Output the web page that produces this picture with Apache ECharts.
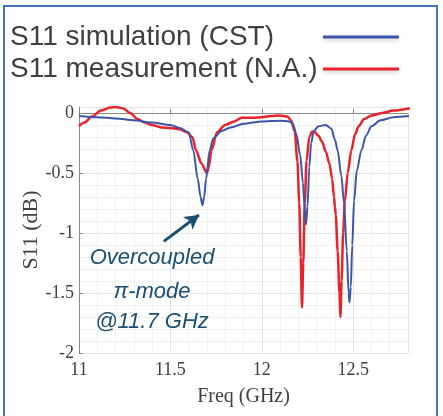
<!DOCTYPE html>
<html>
<head>
<meta charset="utf-8">
<script src="https://cdn.jsdelivr.net/npm/echarts@6/dist/echarts.min.js"></script>
<style>
  html, body { margin: 0; padding: 0; background: #fff; }
  #chart { width: 443px; height: 416px; }
</style>
</head>
<body>
<div id="chart"></div>
<script>
// simulation (CST)
const simFreq = [11.00, 11.10, 11.20, 11.30, 11.40, 11.50, 11.55, 11.60, 11.625, 11.65, 11.665, 11.675, 11.685, 11.695, 11.715, 11.735, 11.78, 11.83, 11.90, 12.00, 12.10, 12.15, 12.17, 12.19, 12.21, 12.225, 12.235, 12.242, 12.25, 12.26, 12.27, 12.285, 12.31, 12.35, 12.38, 12.40, 12.415, 12.435, 12.45, 12.465, 12.475, 12.48, 12.487, 12.495, 12.505, 12.52, 12.545, 12.57, 12.60, 12.65, 12.72, 12.81]
const simS11 = [-0.025, -0.035, -0.045, -0.06, -0.08, -0.10, -0.125, -0.16, -0.31, -0.55, -0.70, -0.77, -0.70, -0.55, -0.31, -0.21, -0.15, -0.12, -0.09, -0.07, -0.065, -0.07, -0.09, -0.18, -0.35, -0.58, -0.80, -0.93, -0.78, -0.45, -0.25, -0.15, -0.11, -0.10, -0.13, -0.22, -0.31, -0.52, -0.75, -1.15, -1.50, -1.58, -1.45, -1.10, -0.73, -0.48, -0.31, -0.19, -0.11, -0.06, -0.035, -0.025]

// measurement (N.A.)
const measFreq = [11.00, 11.03, 11.07, 11.12, 11.17, 11.20, 11.24, 11.28, 11.32, 11.36, 11.40, 11.45, 11.50, 11.55, 11.59, 11.62, 11.64, 11.67, 11.70, 11.71, 11.725, 11.755, 11.80, 11.85, 11.89, 11.95, 12.00, 12.05, 12.10, 12.14, 12.16, 12.18, 12.195, 12.205, 12.213, 12.22, 12.227, 12.235, 12.245, 12.26, 12.275, 12.29, 12.31, 12.33, 12.35, 12.37, 12.385, 12.395, 12.40, 12.405, 12.415, 12.425, 12.43, 12.437, 12.445, 12.455, 12.47, 12.49, 12.51, 12.53, 12.56, 12.60, 12.66, 12.72, 12.81]
const measS11 = [-0.11, -0.08, -0.03, 0.02, 0.045, 0.05, 0.04, 0.00, -0.05, -0.08, -0.10, -0.12, -0.125, -0.135, -0.16, -0.20, -0.31, -0.42, -0.50, -0.45, -0.31, -0.16, -0.10, -0.07, -0.04, -0.04, -0.035, -0.025, -0.02, -0.03, -0.06, -0.15, -0.40, -0.75, -1.20, -1.62, -1.25, -0.75, -0.40, -0.20, -0.155, -0.16, -0.19, -0.24, -0.32, -0.42, -0.55, -0.70, -0.78, -0.85, -1.15, -1.50, -1.70, -1.40, -1.00, -0.73, -0.50, -0.31, -0.18, -0.11, -0.05, -0.02, 0.00, 0.02, 0.04]

// arrow pointing at the pi-mode dip: [freq, dB]
const arrowFrom = [11.464, -1.07]
const arrowTo = [11.656, -0.85]

const seriesNames = ['S11 simulation (CST)', 'S11 measurement (N.A.)']
const noteLines = ['Overcoupled', 'π-mode', '@11.7 GHz']

const toPairs = (xs, ys) => xs.map((x, i) => [x, ys[i]])

const chart = echarts.init(document.getElementById('chart'))

const serif = '"Liberation Serif", "DejaVu Serif", serif'
const sans = '"Liberation Sans", Arial, sans-serif'
const noteColor = '#1b4f72'

const option = {
  animation: false,
  backgroundColor: '#fff',
  legend: {
    orient: 'vertical',
    left: 10,
    top: 23,
    align: 'right',
    icon: 'rect',
    itemWidth: 76,
    itemHeight: 3,
    itemGap: 4,
    padding: 0,
    data: seriesNames,
    formatter: (name) => '{t|' + name + '}',
    itemStyle: { shadowBlur: 4, shadowColor: 'rgba(0,0,0,0.2)', shadowOffsetY: 2 },
    textStyle: {
      fontFamily: sans,
      fontSize: 28,
      color: '#404040',
      rich: {
        t: { width: 308, align: 'left', fontFamily: sans, fontSize: 28, color: '#404040', lineHeight: 32 },
      },
    },
  },
  grid: {
    left: 79,
    right: 35,
    top: 107,
    bottom: 63,
  },
  xAxis: {
    type: 'value',
    min: 11,
    max: 12.8,
    interval: 0.5,
    name: 'Freq (GHz)',
    nameLocation: 'middle',
    nameGap: 34,
    nameTextStyle: { fontFamily: serif, fontSize: 20, color: '#404040' },
    axisLine: { show: true, lineStyle: { color: '#8a8a8a', width: 1 } },
    axisTick: { show: true, inside: true, length: 4, lineStyle: { color: '#8a8a8a' } },
    minorTick: { show: false, splitNumber: 5 },
    axisLabel: {
      fontFamily: serif,
      fontSize: 18,
      color: '#404040',
      margin: 8,
      showMaxLabel: false,
      formatter: (v) => (Math.abs(v * 2 - Math.round(v * 2)) < 1e-6 ? String(v) : ''),
    },
    splitLine: { show: true, lineStyle: { color: '#e4e4e4', width: 1 } },
    minorSplitLine: { show: true, lineStyle: { color: '#f1f1f1', width: 1 } },
  },
  yAxis: {
    type: 'value',
    min: -2,
    max: 0.05,
    interval: 0.5,
    name: 'S11 (dB)',
    nameLocation: 'middle',
    nameGap: 37,
    nameMoveOverlap: false,
    nameTextStyle: { fontFamily: serif, fontSize: 22, color: '#404040' },
    axisLine: { show: true, lineStyle: { color: '#8a8a8a', width: 1 } },
    axisTick: { show: true, inside: true, length: 4, lineStyle: { color: '#8a8a8a' } },
    minorTick: { show: false, splitNumber: 5 },
    axisLabel: {
      fontFamily: serif,
      fontSize: 18,
      color: '#404040',
      margin: 5,
      showMaxLabel: false,
      formatter: (v) => (v > 0 ? '' : String(v)),
    },
    splitLine: { show: true, lineStyle: { color: '#e4e4e4', width: 1 } },
    minorSplitLine: { show: true, lineStyle: { color: '#f1f1f1', width: 1 } },
  },
  series: [
    {
      name: seriesNames[0],
      type: 'line',
      data: toPairs(simFreq, simS11),
      showSymbol: false,
      smooth: 0.3,
      smoothMonotone: 'x',
      itemStyle: { color: '#3d55a8' },
      lineStyle: { color: '#3d55a8', width: 2 },
      z: 3,
    },
    {
      name: seriesNames[1],
      type: 'line',
      data: toPairs(measFreq, measS11),
      showSymbol: false,
      smooth: 0.3,
      smoothMonotone: 'x',
      itemStyle: { color: '#e8232b' },
      lineStyle: { color: '#e8232b', width: 2.5 },
      z: 2,
      markLine: {
        silent: true,
        symbol: ['none', 'arrow'],
        symbolSize: [12, 14],
        label: { show: false },
        lineStyle: { color: noteColor, width: 3, type: 'solid' },
        data: [[{ coord: arrowFrom }, { coord: arrowTo }]],
      },
    },
  ],
  graphic: [
    {
      type: 'rect',
      shape: { x: 4, y: 6, width: 433, height: 420 },
      style: { fill: 'none', stroke: '#4472c4', lineWidth: 2 },
      silent: true,
      z: 10,
    },
    ...noteLines.map((t, i) => ({
      type: 'text',
      x: 152,
      y: [258, 292, 322][i],
      style: {
        text: t,
        fill: noteColor,
        font: 'italic 22px ' + sans,
        align: 'center',
        verticalAlign: 'middle',
      },
      silent: true,
      z: 10,
    })),
  ],
}

chart.setOption(option)
</script>
</body>
</html>
